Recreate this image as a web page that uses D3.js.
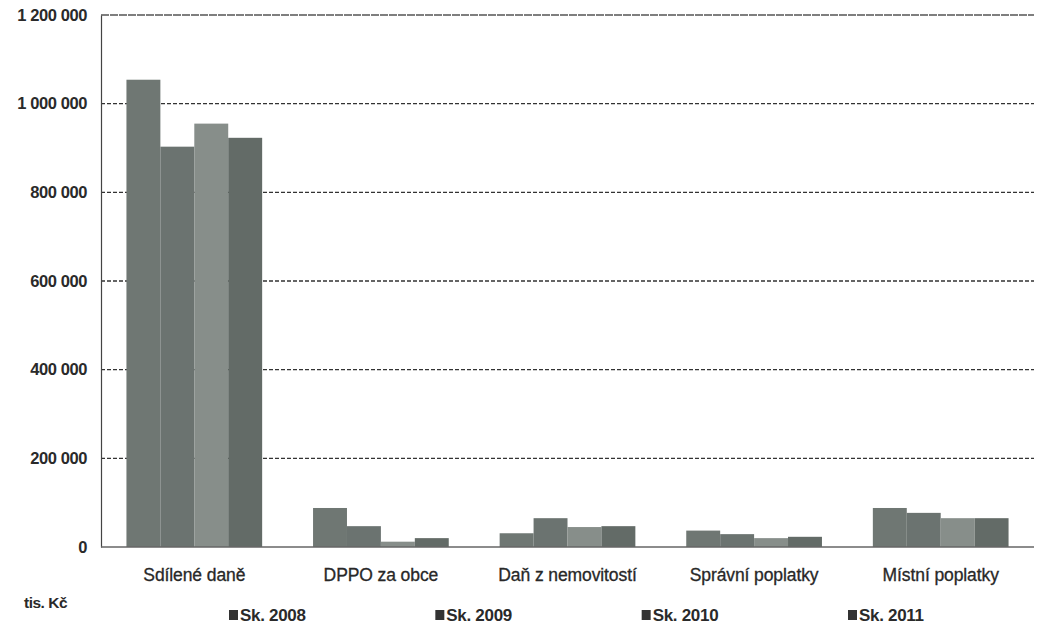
<!DOCTYPE html>
<html>
<head>
<meta charset="utf-8">
<script src="https://cdn.jsdelivr.net/npm/d3@7"></script>
<style>
  body { margin: 0; background: #fff; }
  svg { display: block; }
  text { font-family: "Liberation Sans", Arial, sans-serif; fill: #2a2a2a; }
</style>
</head>
<body>
<svg id="chart" width="1044" height="627"></svg>
<script>
// Příjmy obce podle druhu (tis. Kč)
const categories = ["Sdílené daně", "DPPO za obce", "Daň z nemovitostí", "Správní poplatky", "Místní poplatky"];
const seriesNames = ["Sk. 2008", "Sk. 2009", "Sk. 2010", "Sk. 2011"];
const sk2008 = [1054000, 88000, 31000, 37000, 88000];
const sk2009 = [903000, 47000, 65000, 29000, 77000];
const sk2010 = [955000, 12000, 45000, 20000, 65000];
const sk2011 = [923000, 20000, 47000, 23000, 65000];
const yTicks = [0, 200000, 400000, 600000, 800000, 1000000, 1200000];
const unitLabel = "tis. Kč";

const series = [sk2008, sk2009, sk2010, sk2011];
const colors = ["#6f7773", "#6b7370", "#878e8a", "#636b67"];

const svg = d3.select("#chart");
const margin = { left: 101, right: 10, top: 15, bottom: 80 };
const W = 1044, H = 627;
const plotRight = W - margin.right;
const y0 = 547;

const x = d3.scaleBand().domain(categories).range([margin.left, plotRight]).paddingInner(0).paddingOuter(0);
const y = d3.scaleLinear().domain([0, 1200000]).range([y0, margin.top]);
const inner = d3.scaleBand().domain(d3.range(series.length)).range([0, x.bandwidth()]).paddingOuter(0.75).paddingInner(0);

// Mřížka
const grid = svg.append("g");
grid.selectAll("line")
  .data(yTicks.filter(t => t > 0))
  .join("line")
  .attr("x1", margin.left).attr("x2", plotRight)
  .attr("y1", d => y(d)).attr("y2", d => y(d))
  .attr("stroke", d => d === 1200000 ? "#555" : "#333")
  .attr("stroke-width", 1.3)
  .attr("stroke-dasharray", d => d === 1200000 ? "8,1" : "4,2");

// Osa Y
const yAxis = d3.axisLeft(y).tickValues(yTicks).tickSize(0).tickPadding(14)
  .tickFormat(d => d3.format(",")(d).replace(/,/g, " "));
const ya = svg.append("g").attr("transform", `translate(${margin.left},0)`).call(yAxis);
ya.select(".domain").attr("stroke", "#444").attr("stroke-width", 1.2);
ya.selectAll("text").attr("font-size", 16.5).attr("font-weight", "bold").attr("fill", "#333")
  .attr("letter-spacing", "-0.4px");

// Sloupce
const groups = svg.append("g").selectAll("g")
  .data(categories)
  .join("g")
  .attr("transform", d => `translate(${x(d)},0)`);
groups.selectAll("rect")
  .data((c, ci) => series.map((s, si) => ({ si, v: s[ci] })))
  .join("rect")
  .attr("x", d => inner(d.si))
  .attr("width", inner.bandwidth())
  .attr("y", d => y(d.v))
  .attr("height", d => y0 - y(d.v))
  .attr("fill", d => colors[d.si]);

// Základní čára
svg.append("line")
  .attr("x1", margin.left).attr("x2", plotRight)
  .attr("y1", y0).attr("y2", y0)
  .attr("stroke", "#666").attr("stroke-width", 1.3);

// Osa X
const xAxis = d3.axisBottom(x).tickSize(0).tickPadding(22);
const xa = svg.append("g").attr("transform", `translate(0,${y0})`).call(xAxis);
xa.select(".domain").remove();
xa.selectAll("text").attr("font-size", 17.5).attr("fill", "#222").attr("letter-spacing", "-0.1px")
  .attr("stroke", "#222").attr("stroke-width", 0.3);

// Jednotka
svg.append("text").attr("x", 24).attr("y", 608)
  .attr("font-size", 15.5).attr("font-weight", "bold").attr("fill", "#333")
  .attr("letter-spacing", "-0.5px")
  .text(unitLabel);

// Legenda
const legendX = d3.scalePoint().domain(seriesNames).range([229, 848]);
const leg = svg.append("g").selectAll("g")
  .data(seriesNames)
  .join("g")
  .attr("transform", d => `translate(${legendX(d)},621)`);
leg.append("rect").attr("x", 0).attr("y", -11).attr("width", 9).attr("height", 10).attr("fill", "#333");
leg.append("text").attr("x", 11).attr("y", 0)
  .attr("font-size", 17).attr("fill", "#333").attr("font-weight", "bold")
  .attr("letter-spacing", "-0.3px")
  .text(d => d);
</script>
</body>
</html>
